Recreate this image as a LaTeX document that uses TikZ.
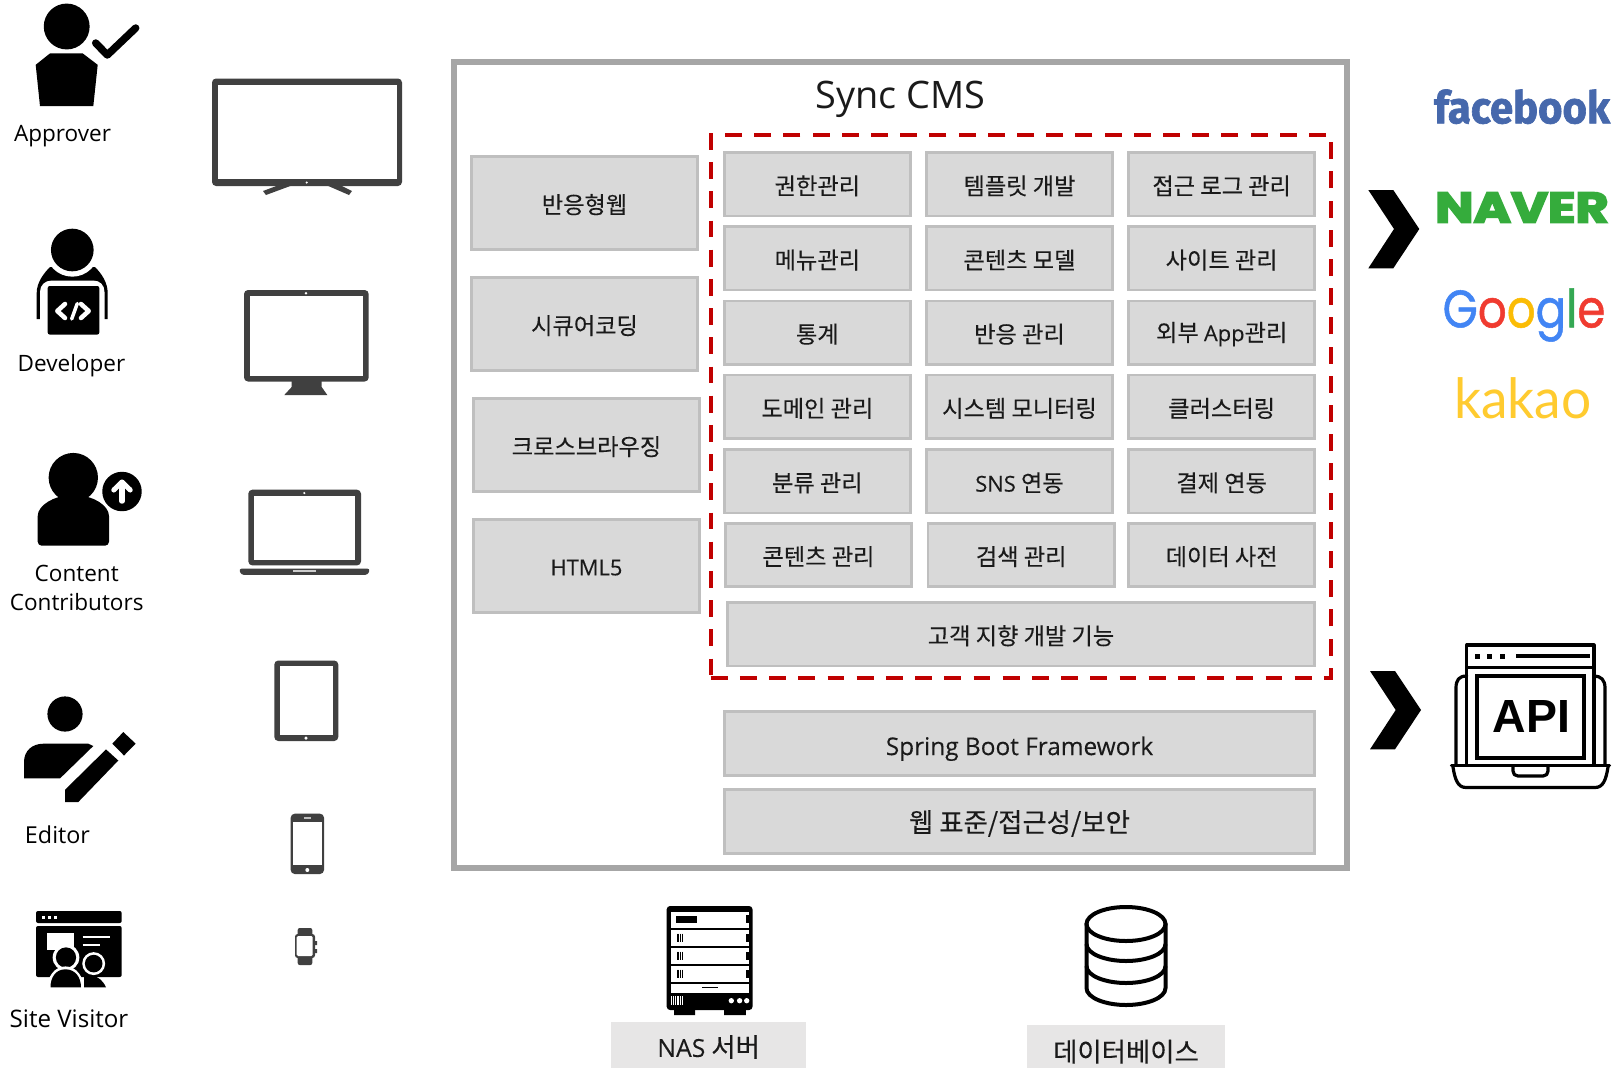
\documentclass[tikz,border=0pt]{standalone}
\usepackage{fontspec}
\usepackage{graphicx}
\setmainfont{Open Sans}
\newfontfamily\kr[FakeBold=0.2]{Noto Sans CJK KR}
\newfontfamily\la[FakeBold=0.2]{Open Sans}
\newfontfamily\navfont[BoldFeatures={FakeBold=4}]{Poppins}
\newfontfamily\fbfont[BoldFeatures={FakeBold=1.5}]{Fira Sans}
\newfontfamily\gfont[FakeBold=1]{Poppins}
\newfontfamily\kfont{Lato}
\definecolor{boxfill}{HTML}{D9D9D9}
\definecolor{boxline}{HTML}{BFBFBF}
\definecolor{framegray}{HTML}{A6A6A6}
\definecolor{dashred}{HTML}{C00000}
\definecolor{devgray}{HTML}{404040}
\definecolor{labelgray}{HTML}{E7E6E6}
\definecolor{inktext}{HTML}{1A1A1A}
\definecolor{fbblue}{HTML}{4668AC}
\definecolor{navgreen}{HTML}{35AC3C}
\definecolor{gblue}{HTML}{4285F4}
\definecolor{gred}{HTML}{F03B30}
\definecolor{gyel}{HTML}{FBBC05}
\definecolor{ggreen}{HTML}{34A853}
\definecolor{kyel}{HTML}{FFCB2F}
\newcommand\lat[1]{{\la\fontsize{16.4}{20}\selectfont #1}}
\newcommand\drop[2]{\raisebox{-#1}[\height][\depth]{#2}}
\newcommand\gbox[6]{\node[graybox,minimum width={(#4-#2-2.6)*0.75pt},minimum height={(#5-#3-2.6)*0.75pt}] (#1) at ({(#2+#4)/2},{(#3+#5)/2}) {\drop{1.2pt}{#6}};}
\tikzset{
 graybox/.style={draw=boxline,fill=boxfill,line width=2pt,inner sep=0pt,outer sep=0pt,text=inktext,font=\kr\fontsize{17.4}{20}\selectfont},
 person/.style={font=\fontsize{16.9}{26}\selectfont,text=black,inner sep=0pt,anchor=base},
 dev/.style={fill=devgray,rounded corners=3pt},
 blk/.style={fill=black},
 wstroke/.style={draw=white,line cap=round,line join=round},
 apil/.style={draw=black,line width=2.4pt,line join=round,line cap=round},
 lowlabel/.style={fill=labelgray,inner sep=0pt,font=\kr\fontsize{19.8}{22}\selectfont,text=inktext},
}
\begin{document}
\begin{tikzpicture}[x=0.75pt,y=-0.75pt]
\useasboundingbox (0,0) rectangle (1621,1068);
\fill[white] (0,0) rectangle (1621,1068);
% main frame
\draw[framegray,line width=4.5pt] (453.8,62) rectangle (1347,867.5);
\node[font=\fontsize{28.4}{32}\selectfont,text=inktext,inner sep=0pt] (title) at (900.7,99) {Sync CMS};
% left boxes
\gbox{b1}{470}{155.3}{699}{250.7}{반응형웹}
\gbox{b2}{470}{276.3}{699}{371.7}{시큐어코딩}
\gbox{b3}{472}{397.3}{701}{492.7}{크로스브라우징}
\gbox{b4}{472}{518.3}{701}{613.7}{\lat{HTML5}}
% grid
\gbox{c11}{723}{151.3}{911.7}{217.3}{권한관리}
\gbox{c12}{925}{151.3}{1114}{217.3}{템플릿 개발}
\gbox{c13}{1127.3}{151.3}{1316}{217.3}{접근 로그 관리}
\gbox{c21}{723}{225.4}{911.7}{291.4}{메뉴관리}
\gbox{c22}{925}{225.4}{1114}{291.4}{콘텐츠 모델}
\gbox{c23}{1127.3}{225.4}{1316}{291.4}{사이트 관리}
\gbox{c31}{723}{299.6}{911.7}{365.6}{통계}
\gbox{c32}{925}{299.6}{1114}{365.6}{반응 관리}
\gbox{c33}{1127.3}{299.6}{1316}{365.6}{외부 \lat{App}관리}
\gbox{c41}{723}{373.8}{911.7}{439.8}{도메인 관리}
\gbox{c42}{925}{373.8}{1114}{439.8}{시스템 모니터링}
\gbox{c43}{1127.3}{373.8}{1316}{439.8}{클러스터링}
\gbox{c51}{723}{448.3}{911.7}{514.3}{분류 관리}
\gbox{c52}{925}{448.3}{1114}{514.3}{\lat{SNS} 연동}
\gbox{c53}{1127.3}{448.3}{1316}{514.3}{결제 연동}
\gbox{c61}{724}{522}{913}{588}{콘텐츠 관리}
\gbox{c62}{926.7}{522}{1115.7}{588}{검색 관리}
\gbox{c63}{1127.3}{522}{1316}{588}{데이터 사전}
\gbox{c7}{726}{601}{1316}{667.3}{고객 지향 개발 기능}
\gbox{s1}{723}{710.3}{1316}{776.7}{\drop{2.7pt}{\la\fontsize{18.3}{22}\selectfont Spring Boot Framework}}
\gbox{s2}{723}{788.3}{1316}{854.7}{\drop{0.3pt}{\fontsize{19.8}{22}\selectfont 웹 표준/접근성/보안}}
% red dashed
\draw[dashred,line width=3.2pt,dash pattern=on 12.7pt off 9.2pt] (710.7,677.7) -- (1331,677.7) -- (1331,135) -- (710.7,135) -- cycle;
% chevrons
\fill[black] (1368.3,190) -- (1393.3,190) -- (1419.3,229) -- (1393.3,268.3) -- (1368.3,268.3) -- (1394,229) -- cycle;
\fill[black] (1370,671) -- (1395,671) -- (1421,710) -- (1395,749.3) -- (1370,749.3) -- (1395.7,710) -- cycle;
% Approver
\fill[blk] (66.7,26.5) circle (17.2pt);
\fill[blk] (50,53.4) -- (82.7,53.4) -- (97.7,64.8) -- (93.3,106.2) -- (40,106.2) -- (35.7,64.8) -- cycle;
\draw[black,line width=5.6pt,line cap=round,line join=round] (95.7,43) -- (107.3,55) -- (135.7,28);
\node[person] (approver) at (62.5,141.7) {Approver};
% Developer
\fill[blk] (36.7,319) -- (36.7,293) .. controls (36.7,283) and (43,274) .. (50,267) -- (95,267) .. controls (102,274) and (107.7,283) .. (107.7,293) -- (107.7,319) -- cycle;
\fill[white] (40,320) -- (40,292) .. controls (40,285) and (45,280.5) .. (52,280.5) -- (93,280.5) .. controls (100,280.5) and (104.5,285) .. (104.5,292) -- (104.5,320) -- cycle;
\fill[white] (72.3,250) circle (20pt);
\fill[blk] (72.3,250) circle (16pt);
\fill[blk,rounded corners=1.5pt] (47.7,286) rectangle (99.3,334.5);
\draw[wstroke,line width=3.4pt] (65,304) -- (57.3,311) -- (65,318);
\draw[wstroke,line width=3.4pt] (81,304) -- (88.7,311) -- (81,318);
\draw[wstroke,line width=2.6pt] (77.3,303.5) -- (71.7,319);
\node[person] (developer) at (71.5,371.5) {Developer};
% Content contributors
\fill[blk] (73.3,477.6) circle (18.5pt);
\fill[blk,rounded corners=3pt] (37.7,545.7) -- (37.7,520) .. controls (37.7,505) and (55,495.5) .. (73.3,495.5) .. controls (92,495.5) and (109,505) .. (109,520) -- (109,545.7) -- cycle;
\fill[blk] (122,491.5) circle (14.8pt);
\draw[wstroke,line width=3.8pt] (122,501.2) -- (122,483.5);
\draw[wstroke,line width=3.8pt] (113.8,490) -- (122,482) -- (130.2,490);
\node[person] (contenta) at (76.7,581.3) {Content};
\node[person] (contentb) at (76.7,610.4) {Contributors};
% Editor
\fill[blk] (65,714) circle (13.2pt);
\fill[blk] (24,778.4) -- (24,762) .. controls (24,751) and (32,743.7) .. (43.3,743.7) -- (88.3,743.7) -- (93.3,746) -- (60,778.4) -- cycle;
\fill[blk] (106,749.4) -- (118.3,760.5) -- (78.3,802) -- (65,802) -- (65,789.8) -- cycle;
\fill[blk] (123.3,732) -- (135.7,743.7) -- (124,755.5) -- (112.3,743.7) -- cycle;
\node[person,font=\fontsize{17.5}{26}\selectfont] (editor) at (57.5,843) {Editor};
% Site visitor
\fill[blk,rounded corners=1.5pt] (36,911) rectangle (121.7,923);
\foreach \dx in {43.3,49.3,55.7}{\fill[white] (\dx-1.6,915.9) rectangle (\dx+1.6,919.1);}
\fill[blk,rounded corners=1.5pt] (36,926) rectangle (121.7,977);
\fill[white] (46.7,933) rectangle (74,950);
\draw[white,line width=1.5pt] (82.7,936.6) -- (110,936.6) (82.7,944.7) -- (100,944.7);
\fill[white] (66,957.5) circle (10pt);
\fill[blk] (66,957.5) circle (7.6pt);
\fill[white] (93.7,963.6) circle (8.6pt);
\fill[blk] (93.7,963.6) circle (6.6pt);
\fill[white] (47,990) .. controls (47,976) and (55,966.4) .. (65.5,966.4) .. controls (76,966.4) and (84,976) .. (84,990) -- cycle;
\fill[blk] (50.5,987.4) .. controls (50.5,977) and (56,969.3) .. (65.5,969.3) .. controls (75,969.3) and (81,977) .. (81,987.4) -- cycle;
\fill[blk] (84,987.4) -- (84,977.3) .. controls (88,975) and (100,973.5) .. (106,987.4) -- cycle;
\node[person,font=\fontsize{18.1}{26}\selectfont] (visitor) at (69,1027) {Site Visitor};
% TV
\fill[dev] (212,78.5) rectangle (402,186);
\fill[white] (217.5,85.3) rectangle (396.8,179);
\fill[devgray] (279,185) -- (293,185) -- (266,195) -- (263,191) -- cycle;
\fill[devgray] (326,185) -- (340,185) -- (352,191) -- (349,195) -- cycle;
\fill[white] (306.7,182.5) circle (0.9pt);
% Monitor
\fill[dev] (244,290) rectangle (368.7,381.5);
\fill[white] (250,296.2) rectangle (363.3,375.5);
\fill[devgray] (291.7,381) -- (321.7,381) -- (321.7,387) -- (327.3,395) -- (284.3,395) -- (291.7,387) -- cycle;
\fill[white] (306,293.3) circle (1pt);
% Laptop
\fill[dev] (248.3,489.7) rectangle (361,565.4);
\fill[white] (254,495.9) rectangle (355.3,559.6);
\fill[devgray,rounded corners=2pt] (239,568.6) -- (370,568.6) -- (368,574.8) -- (241,574.8) -- cycle;
\draw[gray!40,line width=1.4pt] (293,571.1) -- (316,571.1);
\fill[white] (304.3,493) circle (0.9pt);
% Tablet
\fill[dev] (274.3,660.5) rectangle (338.3,741);
\fill[white] (280,665.6) rectangle (333.3,734.6);
\fill[white] (306,738.2) circle (1.3pt);
% Phone
\fill[dev] (290.7,813.7) rectangle (324,874);
\fill[white] (292.5,821.8) rectangle (322.3,864.9);
\draw[gray!50,line width=0.9pt] (304.3,818) -- (311,818);
\fill[white] (307.3,870) circle (1.5pt);
% Watch
\fill[devgray,rounded corners=1.5pt] (297.7,928) rectangle (312.3,965);
\fill[devgray,rounded corners=2pt] (295,934) rectangle (315,958);
\fill[white,rounded corners=1pt] (296.7,936) rectangle (312.7,956);
\fill[devgray] (315,941) rectangle (317,945) (315,949) rectangle (317,953);
% logos
\node[inner sep=0pt,text=fbblue] (facebook) at (1522,106.7) {\resizebox*{132pt}{26pt}{\fbfont\bfseries facebook}};
\node[inner sep=0pt,text=navgreen] (naver) at (1522,207.5) {\resizebox*{130pt}{22.5pt}{\navfont\bfseries NAVER}};
\node[inner sep=0pt] (google) at (1524,315) {\resizebox*{122pt}{40pt}{\gfont\textcolor{gblue}{G}\textcolor{gred}{o}\textcolor{gyel}{o}\textcolor{gblue}{g}\textcolor{ggreen}{l}\textcolor{gred}{e}}};
\node[inner sep=0pt,text=kyel] (kakao) at (1523,398) {\resizebox*{103pt}{31pt}{\kfont kakao}};
% API icon
\draw[apil] (1466.7,764) -- (1466.7,645) -- (1594,645) -- (1594,764);
\draw[apil] (1466.7,667.7) -- (1594,667.7);
\foreach \dx in {1477,1489,1502}{\fill[black] (\dx-2.5,653.5) rectangle (\dx+2.5,658.5);}
\draw[apil,line cap=butt] (1516,656) -- (1590,656);
\draw[black,line width=3pt] (1477,676) rectangle (1584,758);
\node[inner sep=0pt,font=\bfseries\fontspec{Liberation Sans}] (api) at (1531.5,716) {\resizebox{58pt}{24pt}{\bfseries API}};
\draw[apil] (1466.7,676) .. controls (1459,676) and (1456,680) .. (1456,688) -- (1456,765);
\draw[apil] (1594,676) .. controls (1601,676) and (1605,680) .. (1605,688) -- (1605,765);
\draw[apil] (1451.5,765.5) -- (1609.5,765.5);
\draw[apil] (1453,767) .. controls (1455,780) and (1458,787.5) .. (1466,787.5) -- (1595,787.5) .. controls (1603,787.5) and (1606,780) .. (1608,767);
\draw[apil] (1513,767) -- (1513,771) .. controls (1513,774) and (1515,776) .. (1518,776) -- (1543,776) .. controls (1546,776) and (1548,774) .. (1548,771) -- (1548,767);
% NAS
\fill[blk,rounded corners=2.5pt] (666.7,906) rectangle (752.5,1010);
\foreach \ya/\yb in {911.7/928.3,930/946,948.3/964,966/981.7,983.7/993.3}{\fill[white] (670.8,\ya) rectangle (748.8,\yb);}
\fill[blk] (676.3,915.7) rectangle (697,922.7);
\foreach \ya in {913.5,933,951,969}{\fill[blk] (745.8,\ya+1) rectangle (748.8,\ya+9);}
\foreach \ya in {933.5,951.5,969.5}{\foreach \bx in {677,678.8,680.6,682.3}{\draw[black,line width=0.6pt] (\bx,\ya) -- (\bx,\ya+8);}}
\draw[black,line width=1pt] (702,987.7) -- (718,987.7);
\foreach \bx in {671.5,673.3,675.1,676.9,678.7,680.5,682.3}{\draw[white,line width=0.6pt] (\bx,996) -- (\bx,1005);}
\foreach \bx in {731.3,739.6,746.7}{\fill[white] (\bx,1000.7) circle (2pt);}
\fill[blk] (674.2,1010) rectangle (695,1015) (724.2,1010) rectangle (745.8,1015);
\node[lowlabel,minimum width=146.6pt,minimum height=34pt] (nas) at (708.6,1045) {\drop{1.5pt}{{\la\fontsize{18.6}{22}\selectfont NAS} 서버}};
% DB
\draw[black,line width=3pt] (1126,924) ellipse [x radius=39.5,y radius=17];
\draw[black,line width=3pt,line cap=round] (1086.5,924) -- (1086.5,988) .. controls (1086.5,998) and (1105.7,1005) .. (1126,1005) .. controls (1146.7,1005) and (1165.5,998) .. (1165.5,988) -- (1165.5,924);
\draw[black,line width=3pt] (1086.5,944) .. controls (1086.5,954) and (1105.7,961) .. (1126,961) .. controls (1146.7,961) and (1165.5,954) .. (1165.5,944);
\draw[black,line width=3pt] (1086.5,966) .. controls (1086.5,976) and (1105.7,983) .. (1126,983) .. controls (1146.7,983) and (1165.5,976) .. (1165.5,966);
\node[lowlabel,minimum width=148pt,minimum height=32pt] (db) at (1126,1046.5) {\drop{3.9pt}{데이터베이스}};
\end{tikzpicture}
\end{document}
